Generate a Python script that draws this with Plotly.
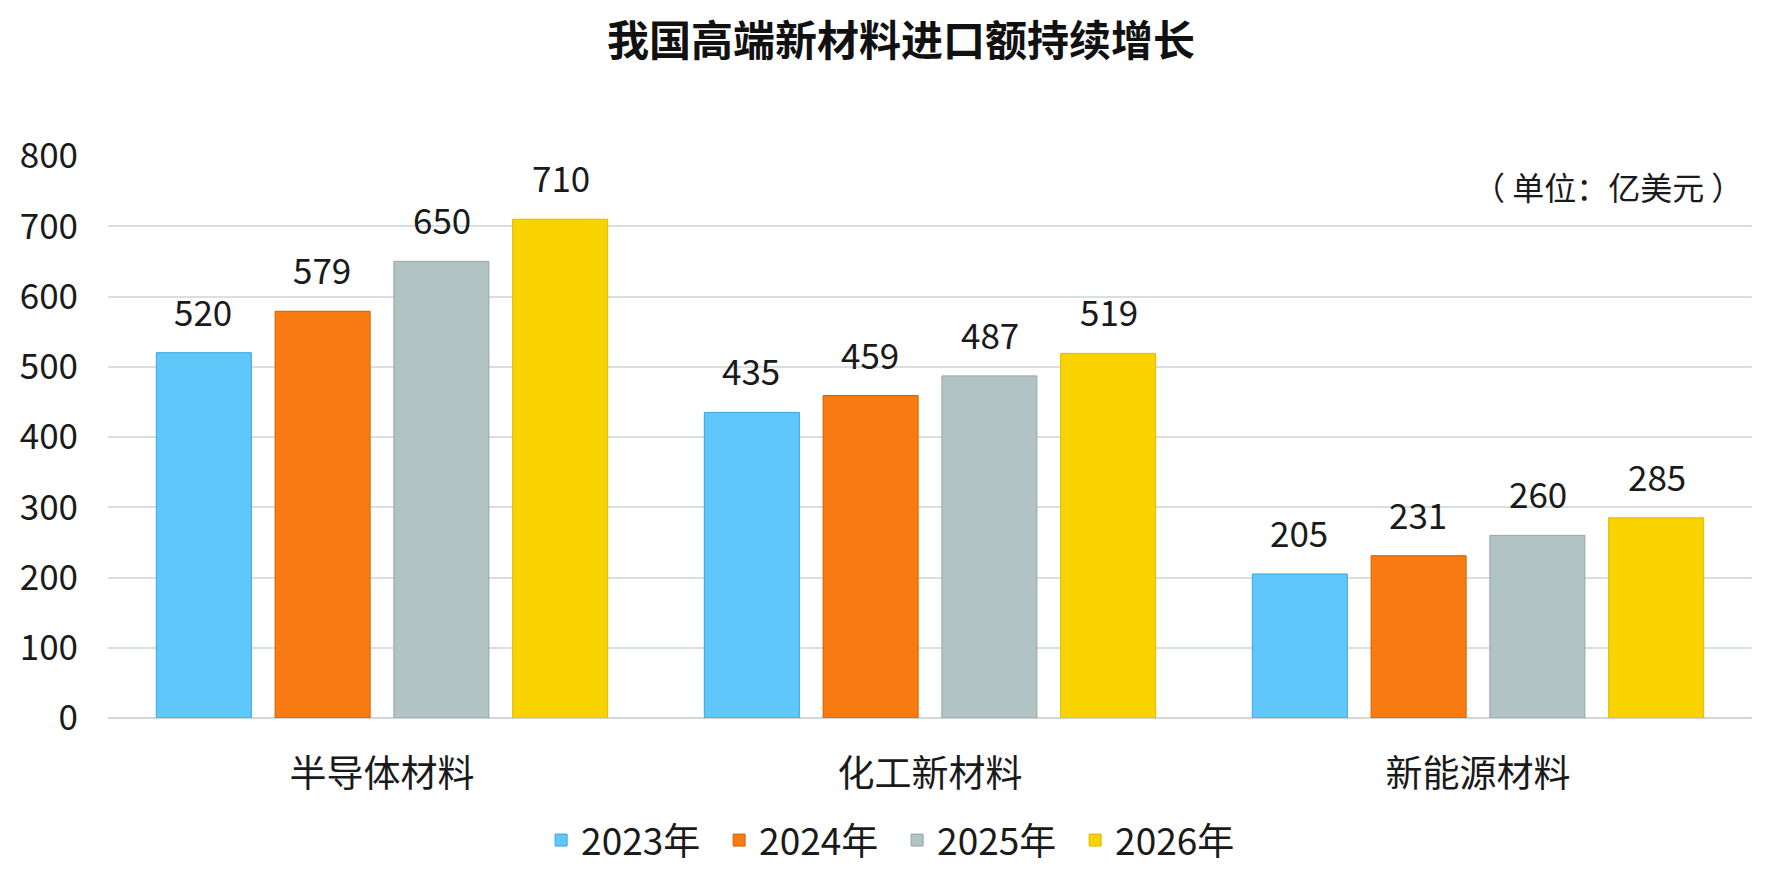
import plotly.graph_objects as go

# data (unit: 100 million USD)
categories = ['半导体材料', '化工新材料', '新能源材料']
years = ['2023年', '2024年', '2025年', '2026年']
values_2023 = [520, 435, 205]
values_2024 = [579, 459, 231]
values_2025 = [650, 487, 260]
values_2026 = [710, 519, 285]
y_ticks = [0, 100, 200, 300, 400, 500, 600, 700, 800]

series = [values_2023, values_2024, values_2025, values_2026]
fills = ['#60c7fa', '#f77b10', '#b1c3c2', '#f8d300']
edges = ['#3aa4da', '#d55f00', '#94a7a7', '#dcbb00']

FONT = 'Noto Sans CJK SC'
W, H = 1772, 881
ML, MR, MT, MB = 94, 28, 148, 171
BARGAP = 0.133
GROUPGAP = 0.2

fig = go.Figure()
for name, vals, fc, ec in zip(years, series, fills, edges):
    fig.add_trace(go.Bar(
        name=name,
        x=categories,
        y=vals,
        marker=dict(color=fc, line=dict(color=ec, width=1)),
    ))

# value labels above the bars
plot_w = W - ML - MR
slot = plot_w / len(categories) * (1 - BARGAP) / len(years)
annotations = []
for i, vals in enumerate(series):
    for cat, v in zip(categories, vals):
        annotations.append(dict(
            x=cat, y=v, xref='x', yref='y',
            text=str(v), showarrow=False,
            xanchor='center', yanchor='bottom',
            xshift=(i - 1.5) * slot, yshift=15,
            font=dict(family=FONT, size=35, color='#1a1a1a'),
        ))

annotations.append(dict(
    x=0.996, y=0.946, xref='paper', yref='paper',
    text='（ 单位：亿美元 ）', showarrow=False,
    xanchor='right', yanchor='middle',
    font=dict(family=FONT, size=32, color='#1a1a1a'),
))

fig.update_layout(
    width=W, height=H,
    margin=dict(l=ML, r=MR, t=MT, b=MB),
    paper_bgcolor='white', plot_bgcolor='white',
    barmode='group', bargap=BARGAP, bargroupgap=GROUPGAP,
    title=dict(
        text='<b>我国高端新材料进口额持续增长</b>',
        x=0.504, xanchor='center', y=0.962, yanchor='middle',
        font=dict(family=FONT, size=42, color='#111111'),
    ),
    legend=dict(
        orientation='h', x=0.480, xanchor='center', y=-0.218, yanchor='middle',
        font=dict(family=FONT, size=37, color='#1a1a1a'),
        entrywidth=133, traceorder='normal',
    ),
    annotations=annotations,
    showlegend=True,
)

fig.update_xaxes(
    showgrid=False, showline=False, ticks='',
    tickfont=dict(family=FONT, size=37, color='#1a1a1a'),
    ticklabelstandoff=31,
)
fig.update_yaxes(
    range=[0, 800], tickvals=y_ticks,
    showgrid=True, gridcolor='#d8dfdf', gridwidth=1.5,
    zeroline=True, zerolinecolor='#d0d8d8', zerolinewidth=1.5,
    showline=False, ticks='',
    tickfont=dict(family=FONT, size=35, color='#1a1a1a'),
    ticklabelstandoff=29,
)

fig.write_html('out.html')
